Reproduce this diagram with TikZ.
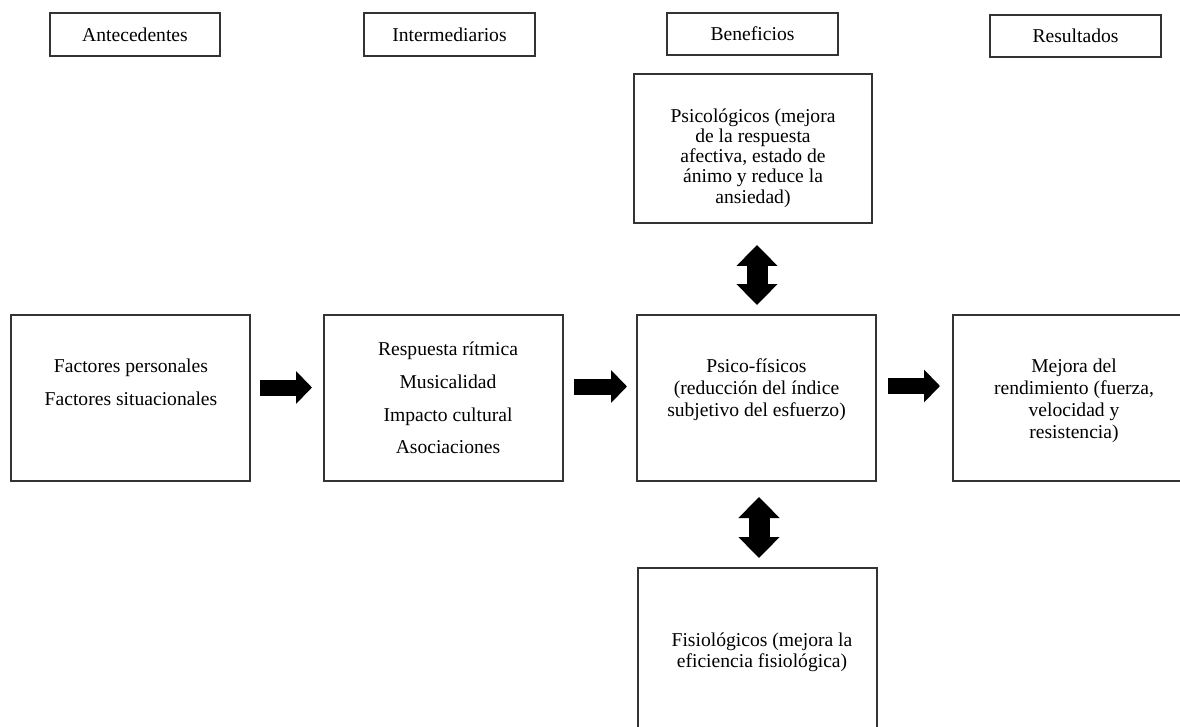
\documentclass[tikz,border=0pt]{standalone}
\usepackage{fontspec}
\setmainfont{Liberation Serif}
\usetikzlibrary{arrows.meta}
\begin{document}
\begin{tikzpicture}[x=1pt,y=-1pt,
  box/.style={draw=black!80, line width=1.3pt, inner sep=0pt, align=center,
              font=\fontsize{19.6}{21}\selectfont},
  txt/.style={align=center, inner sep=0pt, font=\fontsize{19.6}{21}\selectfont},
  lst/.style={align=center, inner sep=0pt, font=\fontsize{19.6}{32.7}\selectfont},
  barrow/.style={line width=16pt, -{Triangle[width=32pt,length=16pt]}},
  darrow/.style={line width=21pt, {Triangle[width=40pt,length=21pt]}-{Triangle[width=40pt,length=21pt]}}]
\useasboundingbox (0,0) rectangle (1180,727);
\clip (0,0) rectangle (1180,727);
\fill[white] (0,0) rectangle (1180,727);
% headers
\node[box, minimum width=170pt, minimum height=43pt] (hA) at (135,34.5) {Antecedentes};
\node[box, minimum width=171pt, minimum height=43pt] (hI) at (449.5,34.5) {Intermediarios};
\node[box, minimum width=171pt, minimum height=42pt] (hB) at (752.5,34) {Beneficios};
\node[box, minimum width=171pt, minimum height=42pt] (hR) at (1075.5,36) {Resultados};
% boxes
\node[box, minimum width=238pt, minimum height=149pt] (psi) at (753,148.5) {};
\node[box, minimum width=239pt, minimum height=166pt] (fac) at (130.5,398) {};
\node[box, minimum width=239pt, minimum height=166pt] (int) at (443.5,398) {};
\node[box, minimum width=239pt, minimum height=166pt] (psf) at (756.5,398) {};
\node[box, minimum width=242pt, minimum height=166pt] (mej) at (1074,398) {};
\node[box, minimum width=239pt, minimum height=169pt] (fis) at (757.5,652.5) {};
% texts
\node[txt, font=\fontsize{19.6}{20.2}\selectfont] (psitxt) at (753,158) {Psicológicos (mejora\\de la respuesta\\afectiva, estado de\\ánimo y reduce la\\ansiedad)};
\node[lst, font=\fontsize{19.6}{33}\selectfont] (factxt) at (131,382.5) {Factores personales\\Factores situacionales};
\node[lst] (inttxt) at (448,398) {Respuesta rítmica\\Musicalidad\\Impacto cultural\\Asociaciones};
\node[txt, font=\fontsize{19.6}{22}\selectfont] (psftxt) at (756.5,390) {Psico-físicos\\(reducción del índice\\subjetivo del esfuerzo)};
\node[txt, font=\fontsize{19.6}{22}\selectfont] (mejtxt) at (1074,401) {Mejora del\\rendimiento (fuerza,\\velocidad y\\resistencia)};
\node[txt] (fistxt) at (762,652.5) {Fisiológicos (mejora la\\eficiencia fisiológica)};
% arrow coordinates
\coordinate (a1s) at (260,387.5);
\coordinate (a1e) at (312,387.5);
\coordinate (a2s) at (574,386.5);
\coordinate (a2e) at (627,386.5);
\coordinate (a3s) at (888,386);
\coordinate (a3e) at (940,386);
\coordinate (d1s) at (757,245);
\coordinate (d1e) at (757,305);
\coordinate (d2s) at (759,497);
\coordinate (d2e) at (759,558);
\draw[barrow] (a1s) -- (a1e);
\draw[barrow] (a2s) -- (a2e);
\draw[barrow] (a3s) -- (a3e);
\draw[darrow] (d1s) -- (d1e);
\draw[darrow] (d2s) -- (d2e);
\end{tikzpicture}
\end{document}
